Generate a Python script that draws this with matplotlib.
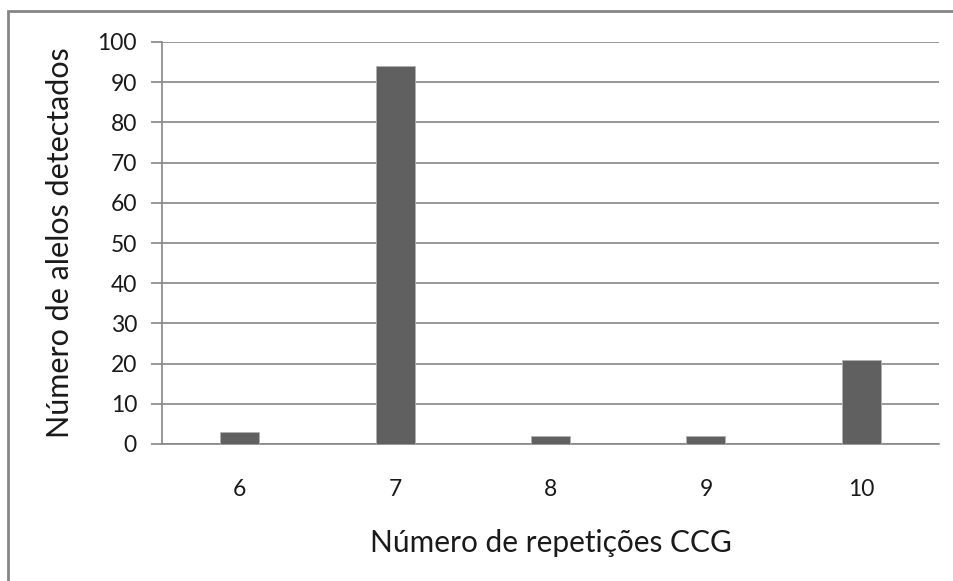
import matplotlib
matplotlib.use("Agg")
import matplotlib.pyplot as plt
from matplotlib.patches import Rectangle

repeticoes = ["6", "7", "8", "9", "10"]
alelos = [3, 94, 2, 2, 21]
y_ticks = [0, 10, 20, 30, 40, 50, 60, 70, 80, 90, 100]

BAR_COLOR = "#606060"
GRID_COLOR = "#868686"
TEXT_COLOR = "#1a1a1a"

plt.rcParams["font.family"] = ["Lato", "DejaVu Sans"]

fig = plt.figure(figsize=(9.54, 5.81), dpi=100)
ax = fig.add_axes([162 / 954, 137 / 581, 777 / 954, 402 / 581])

# outer chart frame, running off the right and bottom edges
fig.patches.append(Rectangle((8 / 954, -0.1), 1.2, 1.1 - 11 / 581,
                             transform=fig.transFigure, fill=False,
                             edgecolor=GRID_COLOR, linewidth=2))

x = list(range(len(repeticoes)))
ax.bar(x, alelos, width=0.25, color=BAR_COLOR, edgecolor="#b0b0b0",
       linewidth=0.6, zorder=3)

ax.set_xlim(-0.5, len(repeticoes) - 0.5)
ax.set_ylim(0, 100)
ax.set_yticks(y_ticks)
ax.set_xticks(x)
ax.set_xticklabels(repeticoes)
ax.yaxis.grid(True, color=GRID_COLOR, linewidth=1.2, zorder=0)

for side in ("top", "right"):
    ax.spines[side].set_visible(False)
for side in ("left", "bottom"):
    ax.spines[side].set_color(GRID_COLOR)
    ax.spines[side].set_linewidth(1.2)

ax.tick_params(axis="y", length=8, width=1.2, color=GRID_COLOR, pad=10,
               labelsize=16.5, labelcolor=TEXT_COLOR)
ax.tick_params(axis="x", length=0, pad=25, labelsize=16.5, labelcolor=TEXT_COLOR)

ax.set_xlabel("Número de repetições CCG", fontsize=21.5, color=TEXT_COLOR,
              va="center")
ax.xaxis.set_label_coords(0.5, -99 / 402)
ax.set_ylabel("Número de alelos detectados", fontsize=22, color=TEXT_COLOR,
              va="center")
ax.yaxis.set_label_coords(-102 / 777, 0.5)

fig.savefig("out.png", dpi=100)
